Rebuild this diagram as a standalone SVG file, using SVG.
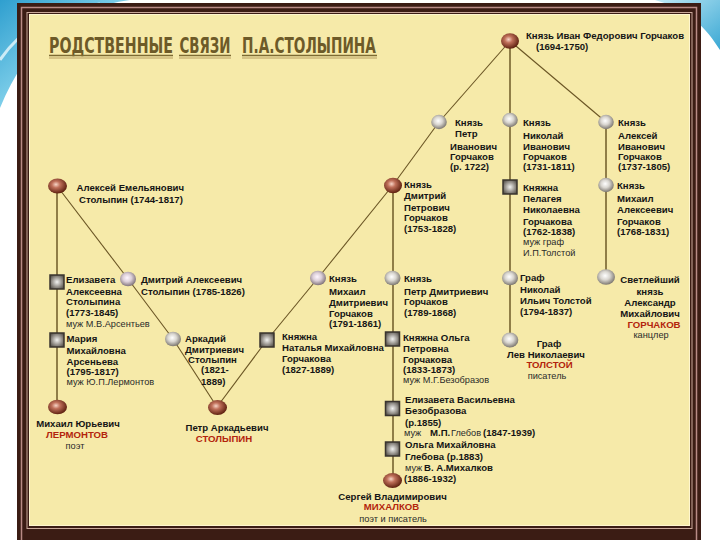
<svg xmlns="http://www.w3.org/2000/svg" width="720" height="540" viewBox="0 0 720 540">
<defs>
<linearGradient id="cyanL" x1="0" y1="0" x2="1" y2="1">
<stop offset="0" stop-color="#2f9fcf"/><stop offset="0.5" stop-color="#7fcfea"/><stop offset="1" stop-color="#d6f1f9"/>
</linearGradient>
<linearGradient id="cyanR" x1="0" y1="0" x2="1" y2="1">
<stop offset="0" stop-color="#bfe8f5"/><stop offset="1" stop-color="#3aa8d4"/>
</linearGradient>
<radialGradient id="gBrown" cx="0.42" cy="0.4" r="0.62">
<stop offset="0" stop-color="#f7d4c6"/><stop offset="0.35" stop-color="#c0705a"/><stop offset="1" stop-color="#5a1d0c"/>
</radialGradient>
<radialGradient id="gGrey" cx="0.45" cy="0.42" r="0.6">
<stop offset="0" stop-color="#ffffff"/><stop offset="0.45" stop-color="#d9d6d0"/><stop offset="1" stop-color="#76716a"/>
</radialGradient>
<radialGradient id="gPink" cx="0.45" cy="0.42" r="0.6">
<stop offset="0" stop-color="#fff6ff"/><stop offset="0.45" stop-color="#dccfd8"/><stop offset="1" stop-color="#7b6e74"/>
</radialGradient>
<radialGradient id="gSq" cx="0.5" cy="0.5" r="0.6">
<stop offset="0" stop-color="#f2f2f0"/><stop offset="0.55" stop-color="#9c9892"/><stop offset="1" stop-color="#55514b"/>
</radialGradient>
<style>
text{font-family:"Liberation Sans",Arial,sans-serif;}
.b{font-weight:bold;font-size:9.6px;fill:#151515;}
.r{font-size:9.2px;fill:#2a2a2a;}
.red{font-weight:bold;font-size:9.6px;fill:#b3240c;}
.c{text-anchor:middle;}
.title{font-family:"DejaVu Sans",sans-serif;font-weight:bold;font-size:22px;fill:#6d5a28;}
.ln{stroke:#6a5524;stroke-width:1.1;fill:none;}
.vl{stroke:#6e5a28;stroke-width:1.5;fill:none;}
.bb{fill:url(#gBrown);}
.gb{fill:url(#gGrey);}
.pb{fill:url(#gPink);}
.sq{fill:url(#gSq);stroke:#3a342e;stroke-width:1.5;}
</style>
</defs>

<rect x="0" y="0" width="720" height="540" fill="#ffffff"/>
<path d="M0,0 H130 C70,8 28,40 0,108 Z" fill="url(#cyanL)"/>
<path d="M0,60 C20,30 50,12 100,4" stroke="#e8f7fc" stroke-width="3" fill="none" opacity="0.8"/>
<path d="M655,0 H720 V50 C706,28 690,10 655,0 Z" fill="url(#cyanR)"/>

<g id="frame">
<rect x="17" y="3" width="684" height="545" fill="#3b1c14"/>
<rect x="21.5" y="7.5" width="675" height="540" fill="none" stroke="#b98b86" stroke-width="1.5"/>
<rect x="27" y="12.5" width="665" height="516" fill="none" stroke="#c9a79a" stroke-width="1"/>
<rect x="29" y="14" width="661" height="512" fill="#f6eaa9"/>
<rect x="29.5" y="14.5" width="660" height="511" fill="none" stroke="#fff6cf" stroke-width="1"/>
</g>

<g id="title">
<text class="title" transform="translate(49,52.7) scale(0.65,1)" textLength="190.8" lengthAdjust="spacingAndGlyphs">РОДСТВЕННЫЕ</text>
<text class="title" transform="translate(179.5,52.7) scale(0.65,1)" textLength="78.5" lengthAdjust="spacingAndGlyphs">СВЯЗИ</text>
<text class="title" transform="translate(242,52.7) scale(0.65,1)" textLength="206" lengthAdjust="spacingAndGlyphs">П.А.СТОЛЫПИНА</text>
<g stroke="#7d6a32" stroke-width="1.6">
<line x1="49" y1="55.5" x2="173" y2="55.5"/><line x1="179" y1="55.5" x2="231" y2="55.5"/><line x1="242" y1="55.5" x2="377" y2="55.5"/>
</g>
<g stroke="#cdb77a" stroke-width="1.4">
<line x1="49" y1="58" x2="173" y2="58"/><line x1="179" y1="58" x2="231" y2="58"/><line x1="242" y1="58" x2="377" y2="58"/>
</g>
</g>

<g id="connectors">
<line class="ln" x1="510" y1="41" x2="439" y2="122"/>
<line class="ln" x1="439" y1="122" x2="393" y2="185"/>
<line class="ln" x1="393" y1="185" x2="318" y2="278"/>
<line class="ln" x1="318" y1="278" x2="267" y2="340"/>
<line class="ln" x1="267" y1="340" x2="217" y2="407"/>
<line class="ln" x1="510" y1="41" x2="606" y2="122"/>
<line class="ln" x1="57" y1="186" x2="128" y2="279"/>
<line class="ln" x1="128" y1="279" x2="173" y2="339"/>
<line class="ln" x1="173" y1="339" x2="217" y2="407"/>
<line class="vl" x1="510" y1="41" x2="510" y2="340"/>
<line class="vl" x1="606" y1="122" x2="606" y2="277"/>
<line class="vl" x1="393" y1="185" x2="393" y2="481"/>
<line class="vl" x1="57" y1="186" x2="57" y2="407"/>
</g>

<g id="ivan">
<ellipse class="bb" cx="510" cy="41" rx="9" ry="7.8"/>
<text class="b" x="526" y="38.5">Князь Иван Федорович Горчаков</text>
<text class="b" x="536" y="50">(1694-1750)</text>
</g>
<g id="petr-ivanovich">
<ellipse class="gb" cx="439" cy="122" rx="7.8" ry="7.2"/>
<text class="b" x="455" y="125.5">Князь</text>
<text class="b" x="455" y="136.5">Петр</text>
<text class="b" x="450" y="149.5">Иванович</text>
<text class="b" x="450" y="160">Горчаков</text>
<text class="b" x="450" y="170">(р. 1722)</text>
</g>
<g id="nikolai-ivanovich">
<ellipse class="gb" cx="510" cy="120" rx="7.8" ry="7.2"/>
<text class="b" x="523" y="126">Князь</text>
<text class="b" x="523" y="139">Николай</text>
<text class="b" x="523" y="149.5">Иванович</text>
<text class="b" x="523" y="160">Горчаков</text>
<text class="b" x="523" y="170">(1731-1811)</text>
</g>
<g id="alexei-ivanovich">
<ellipse class="gb" cx="606" cy="122" rx="7.8" ry="7.2"/>
<text class="b" x="618" y="126">Князь</text>
<text class="b" x="618" y="139">Алексей</text>
<text class="b" x="618" y="150">Иванович</text>
<text class="b" x="618" y="160">Горчаков</text>
<text class="b" x="618" y="170">(1737-1805)</text>
</g>
<g id="dmitry-petrovich">
<ellipse class="bb" cx="393" cy="185.5" rx="9" ry="7.8"/>
<text class="b" x="404" y="188">Князь</text>
<text class="b" x="404" y="199">Дмитрий</text>
<text class="b" x="404" y="210.5">Петрович</text>
<text class="b" x="404" y="221">Горчаков</text>
<text class="b" x="404" y="232">(1753-1828)</text>
</g>
<g id="pelageya">
<rect class="sq" x="503" y="180" width="14" height="14"/>
<text class="b" x="523" y="190.5">Княжна</text>
<text class="b" x="523" y="201.5">Пелагея</text>
<text class="b" x="523" y="213">Николаевна</text>
<text class="b" x="523" y="224.5">Горчакова</text>
<text class="b" x="523" y="235">(1762-1838)</text>
<text class="r" x="523" y="245">муж граф</text>
<text class="r" x="523" y="256">И.П.Толстой</text>
</g>
<g id="mikhail-alekseevich">
<ellipse class="gb" cx="606" cy="185" rx="7.8" ry="7.2"/>
<text class="b" x="617" y="189">Князь</text>
<text class="b" x="617" y="201.5">Михаил</text>
<text class="b" x="617" y="213">Алексеевич</text>
<text class="b" x="617" y="224.5">Горчаков</text>
<text class="b" x="617" y="235">(1768-1831)</text>
</g>
<g id="alexei-emelyanovich">
<ellipse class="bb" cx="57.5" cy="186" rx="9.5" ry="7.5"/>
<text class="b" x="76.5" y="190.5">Алексей Емельянович</text>
<text class="b" x="79" y="203">Столыпин (1744-1817)</text>
</g>
<g id="elizaveta-alekseevna">
<rect class="sq" x="50" y="275" width="14" height="14"/>
<text class="b" x="66" y="283">Елизавета</text>
<text class="b" x="66" y="294.5">Алексеевна</text>
<text class="b" x="66" y="305">Столыпина</text>
<text class="b" x="66" y="315.5">(1773-1845)</text>
<text class="r" x="66" y="327">муж М.В.Арсентьев</text>
</g>
<g id="dmitry-alekseevich">
<ellipse class="pb" cx="128" cy="279" rx="8" ry="7.3"/>
<text class="b" x="141" y="283">Дмитрий Алексеевич</text>
<text class="b" x="141" y="294.5">Столыпин (1785-1826)</text>
</g>
<g id="maria">
<rect class="sq" x="50" y="333" width="14" height="14"/>
<text class="b" x="66.5" y="341.5">Мария</text>
<text class="b" x="66.5" y="354">Михайловна</text>
<text class="b" x="66.5" y="364.5">Арсеньева</text>
<text class="b" x="66.5" y="375">(1795-1817)</text>
<text class="r" x="66.5" y="384.5">муж Ю.П.Лермонтов</text>
</g>
<g id="arkady">
<ellipse class="gb" cx="173" cy="339" rx="8" ry="7.3"/>
<text class="b" x="185" y="341.5">Аркадий</text>
<text class="b" x="185" y="353">Дмитриевич</text>
<text class="b" x="188" y="363">Столыпин</text>
<text class="b" x="201" y="373">(1821-</text>
<text class="b" x="201" y="384.5">1889)</text>
</g>
<g id="mikhail-dmitrievich">
<ellipse class="pb" cx="318" cy="278" rx="8" ry="7.3"/>
<text class="b" x="329" y="282">Князь</text>
<text class="b" x="329" y="294.5">Михаил</text>
<text class="b" x="329" y="305.5">Дмитриевич</text>
<text class="b" x="329" y="316.5">Горчаков</text>
<text class="b" x="329" y="327">(1791-1861)</text>
</g>
<g id="natalia">
<rect class="sq" x="260" y="333" width="14" height="14"/>
<text class="b" x="282" y="339.5">Княжна</text>
<text class="b" x="282" y="351">Наталья Михайловна</text>
<text class="b" x="282" y="362">Горчакова</text>
<text class="b" x="282" y="373">(1827-1889)</text>
</g>
<g id="petr-dmitrievich">
<ellipse class="gb" cx="392.5" cy="278" rx="8" ry="7.3"/>
<text class="b" x="404" y="281.5">Князь</text>
<text class="b" x="404" y="294.5">Петр Дмитриевич</text>
<text class="b" x="404" y="304.5">Горчаков</text>
<text class="b" x="404" y="315.5">(1789-1868)</text>
</g>
<g id="olga-petrovna">
<rect class="sq" x="385.5" y="332" width="14" height="14"/>
<text class="b" x="403" y="341">Княжна Ольга</text>
<text class="b" x="403" y="352">Петровна</text>
<text class="b" x="403" y="363">Горчакова</text>
<text class="b" x="403" y="373">(1833-1873)</text>
<text class="r" x="403" y="382.5">муж М.Г.Безобразов</text>
</g>
<g id="nikolai-ilyich">
<ellipse class="gb" cx="510" cy="278" rx="8" ry="7.3"/>
<text class="b" x="520" y="281">Граф</text>
<text class="b" x="520" y="293">Николай</text>
<text class="b" x="520" y="304">Ильич Толстой</text>
<text class="b" x="520" y="314.5">(1794-1837)</text>
</g>
<g id="lev-tolstoy">
<ellipse class="gb" cx="510" cy="340" rx="8.3" ry="7.5"/>
<text class="b c" x="549" y="346.5">Граф</text>
<text class="b c" x="546" y="358">Лев Николаевич</text>
<text class="red c" x="549.5" y="368">ТОЛСТОЙ</text>
<text class="r c" x="547" y="378.5">писатель</text>
</g>
<g id="alexander-gorchakov">
<ellipse class="gb" cx="606" cy="277" rx="9" ry="7.8"/>
<text class="b c" x="650" y="283">Светлейший</text>
<text class="b c" x="650" y="294.5">князь</text>
<text class="b c" x="650" y="305.5">Александр</text>
<text class="b c" x="650" y="316.5">Михайлович</text>
<text class="red c" x="654" y="327.5">ГОРЧАКОВ</text>
<text class="r c" x="651" y="337.5">канцлер</text>
</g>
<g id="lermontov">
<ellipse class="bb" cx="57.5" cy="407" rx="9.5" ry="7.3"/>
<text class="b c" x="78" y="426.5">Михаил Юрьевич</text>
<text class="red c" x="77" y="438">ЛЕРМОНТОВ</text>
<text class="r c" x="75" y="448.5">поэт</text>
</g>
<g id="stolypin">
<ellipse class="bb" cx="217.5" cy="407.5" rx="9.5" ry="7.5"/>
<text class="b c" x="227" y="431">Петр Аркадьевич</text>
<text class="red c" x="224" y="442">СТОЛЫПИН</text>
</g>
<g id="elizaveta-vasilievna">
<rect class="sq" x="385.5" y="401.5" width="14" height="14"/>
<text class="b" x="405" y="403">Елизавета Васильевна</text>
<text class="b" x="405" y="414">Безобразова</text>
<text class="b" x="405" y="425.5">(р.1855)</text>
<text class="r" x="404" y="435.5">муж</text>
<text class="b" x="430" y="435.5" font-size="9">М.П.</text>
<text class="r" x="451" y="435.5">Глебов</text>
<text class="b" x="483" y="435.5">(1847-1939)</text>
</g>
<g id="olga-mikhailovna">
<rect class="sq" x="385.5" y="442" width="14" height="14"/>
<text class="b" x="405" y="448">Ольга Михайловна</text>
<text class="b" x="405" y="460">Глебова (р.1883)</text>
<text class="r" x="405" y="471">муж</text>
<text class="b" x="424" y="471">В. А.Михалков</text>
<text class="b" x="404" y="482">(1886-1932)</text>
</g>
<g id="mikhalkov">
<ellipse class="bb" cx="392.5" cy="480.5" rx="9.5" ry="7.5"/>
<text class="b c" x="392.5" y="500">Сергей Владимирович</text>
<text class="red c" x="391.5" y="509.5">МИХАЛКОВ</text>
<text class="r c" x="393" y="522">поэт и писатель</text>
</g>
</svg>
